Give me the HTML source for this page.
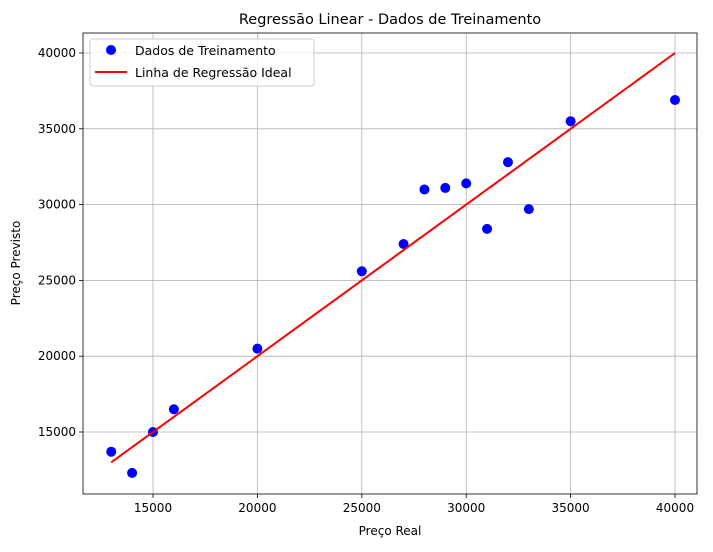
<!DOCTYPE html>
<html><head><meta charset="utf-8"><style>
body{margin:0;background:#fff;font-family:"Liberation Sans","DejaVu Sans",sans-serif;}
svg text{font-family:"DejaVu Sans","Liberation Sans",sans-serif;}
</style></head><body>
<svg id="chart" width="713" height="547" xmlns="http://www.w3.org/2000/svg"></svg>
<script>
const xValues=[13000,14000,15000,16000,20000,25000,27000,28000,29000,30000,31000,32000,33000,35000,40000];
const yValues=[13700,12300,15000,16500,20500,25600,27400,31000,31100,31400,28400,32800,29700,35500,36900];
const xTicks=[15000,20000,25000,30000,35000,40000];
const yTicks=[15000,20000,25000,30000,35000,40000];
const lineX=[13000,40000];
const NS="http://www.w3.org/2000/svg";
const svg=document.getElementById('chart');
const L=83,R=697,T=33,B=494;
function xs(v){return 153+(v-15000)*522/25000;}
function ys(v){return 432-(v-15000)*379/25000;}
function mk(t,a,p){const e=document.createElementNS(NS,t);for(const k in a)e.setAttribute(k,a[k]);(p||svg).appendChild(e);return e;}
const grid=mk('g',{});


xTicks.forEach(v=>{mk('line',{x1:xs(v),x2:xs(v),y1:T,y2:B,stroke:'#b0b0b0','stroke-width':0.8},grid);
 mk('line',{x1:xs(v),x2:xs(v),y1:B,y2:B+4,stroke:'#000','stroke-width':0.8});
 const t=mk('text',{x:xs(v),y:B+18,'font-size':12,'text-anchor':'middle'});t.textContent=v;
 });
yTicks.forEach(v=>{mk('line',{x1:L,x2:R,y1:ys(v),y2:ys(v),stroke:'#b0b0b0','stroke-width':0.8},grid);
 mk('line',{x1:L-4,x2:L,y1:ys(v),y2:ys(v),stroke:'#000','stroke-width':0.8});
 const t=mk('text',{x:L-7,y:ys(v)+4,'font-size':12,'text-anchor':'end'});t.textContent=v;
 });
const pts=mk('g',{});


xValues.forEach((x,i)=>{const c=mk('circle',{cx:xs(x),cy:ys(yValues[i]),r:5,fill:'#0000ff'},pts);
 });
const ln=mk('line',{x1:xs(lineX[0]),y1:ys(lineX[0]),x2:xs(lineX[1]),y2:ys(lineX[1]),stroke:'#ff0000','stroke-width':2});


mk('rect',{x:L,y:T,width:R-L,height:B-T,fill:'none',stroke:'#000','stroke-width':0.8});
let t=mk('text',{x:(L+R)/2,y:24,'font-size':14.5,'text-anchor':'middle'});t.textContent='Regressão Linear - Dados de Treinamento';

t=mk('text',{x:(L+R)/2,y:535,'font-size':12,'text-anchor':'middle'});t.textContent='Preço Real';

t=mk('text',{x:0,y:0,'font-size':12,'text-anchor':'middle',transform:'translate(20,263) rotate(-90)'});t.textContent='Preço Previsto';

const lg=mk('g',{});


mk('rect',{x:90,y:39,width:224,height:47,rx:3,fill:'#fff','fill-opacity':0.8,stroke:'#ccc'},lg);
mk('circle',{cx:111,cy:50,r:5,fill:'#0000ff'},lg);
t=mk('text',{x:135,y:55,'font-size':12.5},lg);t.textContent='Dados de Treinamento';

mk('line',{x1:95,x2:127,y1:72,y2:72,stroke:'#ff0000','stroke-width':2},lg);
t=mk('text',{x:135,y:77,'font-size':12.5},lg);t.textContent='Linha de Regressão Ideal';

</script>
</body></html>
